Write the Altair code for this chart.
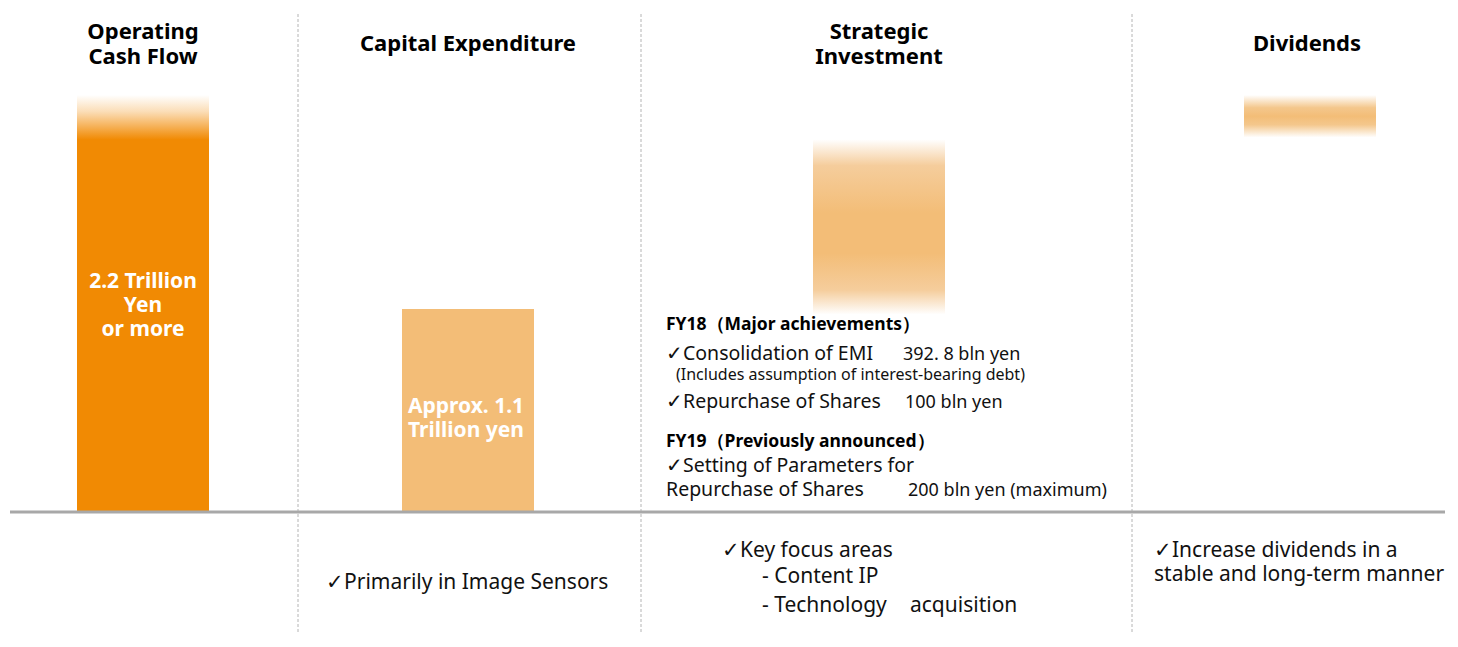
import altair as alt
import pandas as pd

# ---------------- data ----------------
categories = ["Operating Cash Flow", "Capital Expenditure", "Strategic Investment", "Dividends"]
bar_start = [0.0, 0.0, 1.07, 2.03]      # trillion yen (bottom of each block)
bar_end = [2.26, 1.10, 2.02, 2.26]      # trillion yen (top of each block)

titles = [["Operating", "Cash Flow"], ["Capital Expenditure"], ["Strategic", "Investment"], ["Dividends"]]
bar_labels = [["2.2 Trillion", "Yen", "or more"], ["Approx. 1.1", "Trillion yen"], [], []]

fy_headers = ["FY18（Major achievements）", "FY19（Previously announced）"]
fy_items = ["✓Consolidation of EMI", "✓Repurchase of Shares", "✓Setting of Parameters for", "Repurchase of Shares"]
fy_amounts = ["392. 8 bln yen", "100 bln yen", "200 bln yen (maximum)"]
fy_note = "(Includes assumption of interest-bearing debt)"
bottom_notes = [["✓Primarily in Image Sensors"],
                ["✓Key focus areas", "- Content IP", "- Technology", "acquisition"],
                ["✓Increase dividends in a", "stable and long-term manner"]]

# ---------------- layout ----------------
W, H = 1458, 647
BASE_PX = 512
PX_PER_T = 184.5
Y_MAX = BASE_PX / PX_PER_T
Y_MIN = -(H - BASE_PX) / PX_PER_T
col_center = [143, 468, 879, 1310]
BAR_W = 132
separators = [298, 641, 1132]

DARK = "#F18A03"
LIGHT = "#F3BD77"

xs = alt.Scale(domain=[0, W], nice=False, zero=False)
ys = alt.Scale(domain=[Y_MIN, Y_MAX], nice=False, zero=False)
ps = alt.Scale(domain=[0, H], reverse=True, nice=False, zero=False)


def stops(pairs):
    return [alt.GradientStop(offset=o, color=c) for o, c in pairs]


gradients = [
    alt.LinearGradient(gradient="linear", x1=0, x2=0, y1=0, y2=1,
                       stops=stops([(0, "#FFFFFF"), (0.04, "#FBDDB6"), (0.107, DARK), (1, DARK)])),
    LIGHT,
    alt.LinearGradient(gradient="linear", x1=0, x2=0, y1=0, y2=1,
                       stops=stops([(0, "#FFFFFF"), (0.15, "#F5CD9C"), (0.42, LIGHT),
                                    (0.65, LIGHT), (0.86, "#F5CD9C"), (1, "#FFFFFF")])),
    alt.LinearGradient(gradient="linear", x1=0, x2=0, y1=0, y2=1,
                       stops=stops([(0, "#FFFFFF"), (0.3, "#F4C78C"), (0.5, LIGHT),
                                    (0.7, "#F4C78C"), (1, "#FFFFFF")])),
]

layers = []

# separators (dashed)
sep_df = pd.DataFrame({"x": separators})
layers.append(
    alt.Chart(sep_df).mark_rule(color="#B4B4B4", strokeWidth=1, strokeDash=[3, 2]).encode(
        x=alt.X("x:Q", scale=xs, axis=None), y=alt.value(14), y2=alt.value(632))
)

# bars
for i, cat in enumerate(categories):
    df = pd.DataFrame({"cat": [cat], "x0": [col_center[i] - BAR_W / 2], "x1": [col_center[i] + BAR_W / 2],
                       "start": [bar_start[i]], "end": [bar_end[i]]})
    layers.append(
        alt.Chart(df).mark_rect(color=gradients[i]).encode(
            x=alt.X("x0:Q", scale=xs, axis=None), x2="x1",
            y=alt.Y("start:Q", scale=ys, axis=None), y2="end")
    )

# baseline
base_df = pd.DataFrame({"v": [0.0], "xa": [10], "xb": [1445]})
layers.append(
    alt.Chart(base_df).mark_rule(color="#A8A8A8", strokeWidth=3).encode(
        x=alt.X("xa:Q", scale=xs, axis=None), x2="xb", y=alt.Y("v:Q", scale=ys, axis=None))
)

# ---------------- texts ----------------
title_pos = {0: (143, [32, 57]), 1: (468, [44]), 2: (879, [32, 57]), 3: (1307, [44])}
rows = []
for i, lines in enumerate(titles):
    cx, yy = title_pos[i]
    for t, y in zip(lines, yy):
        rows.append(dict(t=t, x=cx, y=y))
title_df = pd.DataFrame(rows)

label_pos = {0: (143, [282, 306, 330]), 1: (466, [407, 431])}
rows = []
for i, lines in enumerate(bar_labels):
    if not lines:
        continue
    cx, yy = label_pos[i]
    for t, y in zip(lines, yy):
        rows.append(dict(t=t, x=cx, y=y))
label_df = pd.DataFrame(rows)

fyh_df = pd.DataFrame(dict(t=fy_headers, x=[666, 666], y=[325, 442]))
fyi_df = pd.DataFrame(dict(t=fy_items, x=[666, 666, 666, 666], y=[354, 402, 466, 490]))
fya_df = pd.DataFrame(dict(t=fy_amounts, x=[903, 905, 908], y=[355, 403, 491]))
note_df = pd.DataFrame(dict(t=[fy_note], x=[676], y=[375]))

bx = [[326], [722, 762, 762, 910], [1154, 1154]]
by = [[583], [551, 577, 606, 606], [551, 575]]
rows = []
for lines, xx, yy in zip(bottom_notes, bx, by):
    for t, x, y in zip(lines, xx, yy):
        rows.append(dict(t=t, x=x, y=y))
bottom_df = pd.DataFrame(rows)

FONT = "Noto Sans"


def text_layer(df, size, weight="normal", color="#111111", align="left"):
    return alt.Chart(df).mark_text(font=FONT, fontSize=size, fontWeight=weight, color=color,
                                   align=align, baseline="middle").encode(
        x=alt.X("x:Q", scale=xs, axis=None), y=alt.Y("y:Q", scale=ps, axis=None), text="t:N")


text_layers = [
    text_layer(title_df, 22, "bold", "#000000", "center"),
    text_layer(label_df, 21, "bold", "#FFFFFF", "center"),
    text_layer(fyh_df, 17.5, "bold", "#000000"),
    text_layer(fyi_df, 19.5),
    text_layer(fya_df, 18),
    text_layer(note_df, 16),
    text_layer(bottom_df, 21),
]

graphics = alt.layer(*layers)
texts = alt.layer(*text_layers)

chart = alt.layer(graphics, texts).resolve_scale(y="independent").properties(
    width=W, height=H, padding=0, autosize=alt.AutoSizeParams(type="none"),
    background="#FFFFFF"
).configure_view(stroke=None)

chart.save("out.html", embed_options={"renderer": "svg", "actions": False})
